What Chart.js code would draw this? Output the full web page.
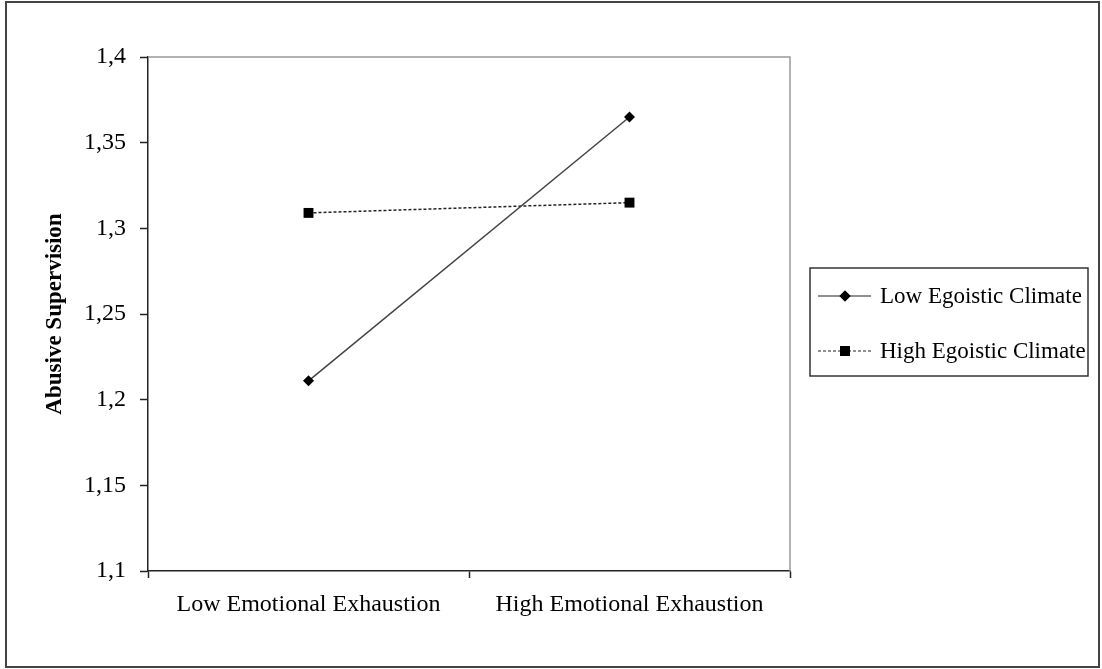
<!DOCTYPE html>
<html>
<head>
<meta charset="utf-8">
<script src="https://cdn.jsdelivr.net/npm/chart.js@4/dist/chart.umd.min.js"></script>
<style>
  html, body { margin: 0; padding: 0; background: #fff; }
  #wrap { width: 1102px; height: 669px; position: relative; }
</style>
</head>
<body>
<div id="wrap"><canvas id="grafico" width="1102" height="669"></canvas></div>
<script>
const categorias = ["Low Emotional Exhaustion", "High Emotional Exhaustion"];
const lowEgoistic = [1.211, 1.365];
const highEgoistic = [1.309, 1.315];
const yMin = 1.1;
const yMax = 1.4;
const yStep = 0.05;

const fonte = "'Liberation Serif', 'Times New Roman', serif";

function formatarTick(v) {
  return (Math.round(v * 100) / 100).toString().replace(".", ",");
}

// moldura externa, borda cinza do plot e legenda desenhada à mão
const extras = {
  id: "extras",
  beforeDatasetsDraw(chart) {
    const { ctx, chartArea: a } = chart;
    ctx.save();
    ctx.strokeStyle = "#999";
    ctx.lineWidth = 1.5;
    ctx.beginPath();
    ctx.moveTo(a.left, a.top);
    ctx.lineTo(a.right, a.top);
    ctx.lineTo(a.right, a.bottom);
    ctx.stroke();
    ctx.restore();
  },
  afterDraw(chart) {
    const ctx = chart.ctx;
    ctx.save();
    ctx.strokeStyle = "#444";
    ctx.lineWidth = 2;
    ctx.strokeRect(6, 2, 1093, 665);

    ctx.strokeStyle = "#333";
    ctx.lineWidth = 1.5;
    ctx.strokeRect(810, 268, 278, 108);

    const itens = [
      { label: "Low Egoistic Climate", y: 296, dash: [], estilo: "rectRot", r: 5.5 },
      { label: "High Egoistic Climate", y: 351, dash: [3, 2], estilo: "rect", r: 7 }
    ];
    itens.forEach(it => {
      ctx.strokeStyle = "#222";
      ctx.lineWidth = 1.2;
      ctx.setLineDash(it.dash);
      ctx.beginPath();
      ctx.moveTo(818, it.y);
      ctx.lineTo(871, it.y);
      ctx.stroke();
      ctx.setLineDash([]);
      ctx.fillStyle = "#000";
      Chart.helpers.drawPoint(ctx, { pointStyle: it.estilo, radius: it.r, borderWidth: 0 }, 845, it.y);
      ctx.fill();
      ctx.font = "23px " + fonte;
      ctx.textBaseline = "middle";
      ctx.textAlign = "left";
      ctx.fillText(it.label, 880, it.y + 1);
    });
    ctx.restore();
  }
};

new Chart(document.getElementById("grafico"), {
  type: "line",
  data: {
    labels: categorias,
    datasets: [
      {
        label: "Low Egoistic Climate",
        data: lowEgoistic,
        borderColor: "#444",
        borderWidth: 1.5,
        pointStyle: "rectRot",
        pointRadius: 5.5,
        pointBackgroundColor: "#000",
        pointBorderColor: "#000",
        pointBorderWidth: 0,
        tension: 0
      },
      {
        label: "High Egoistic Climate",
        data: highEgoistic,
        borderColor: "#222",
        borderWidth: 1.5,
        borderDash: [3, 2],
        pointStyle: "rect",
        pointRadius: 7,
        pointBackgroundColor: "#000",
        pointBorderColor: "#000",
        pointBorderWidth: 0,
        tension: 0
      }
    ]
  },
  options: {
    responsive: false,
    animation: false,
    events: [],
    layout: { padding: { top: 57, right: 312, bottom: 0, left: 0 } },
    plugins: {
      legend: { display: false },
      tooltip: { enabled: false }
    },
    scales: {
      x: {
        offset: true,
        grid: {
          offset: true,
          drawOnChartArea: false,
          tickLength: 7,
          color: "#222",
          tickWidth: 1.5
        },
        border: { color: "#222", width: 1.5 },
        ticks: {
          color: "#000",
          padding: 12,
          font: { family: fonte, size: 24 }
        },
        afterFit(scale) { scale.height = 98; }
      },
      y: {
        min: yMin,
        max: yMax,
        grid: {
          drawOnChartArea: false,
          tickLength: 8,
          color: "#222",
          tickWidth: 1.5
        },
        border: { color: "#222", width: 1.5 },
        ticks: {
          stepSize: yStep,
          color: "#000",
          padding: 14,
          font: { family: fonte, size: 24 },
          callback: v => formatarTick(v)
        },
        title: {
          display: true,
          text: "Abusive Supervision",
          color: "#000",
          font: { family: fonte, size: 23, weight: "bold" },
          padding: { top: 41, bottom: 0 }
        },
        afterFit(scale) { scale.width = 148; }
      }
    }
  },
  plugins: [extras]
});
</script>
</body>
</html>
